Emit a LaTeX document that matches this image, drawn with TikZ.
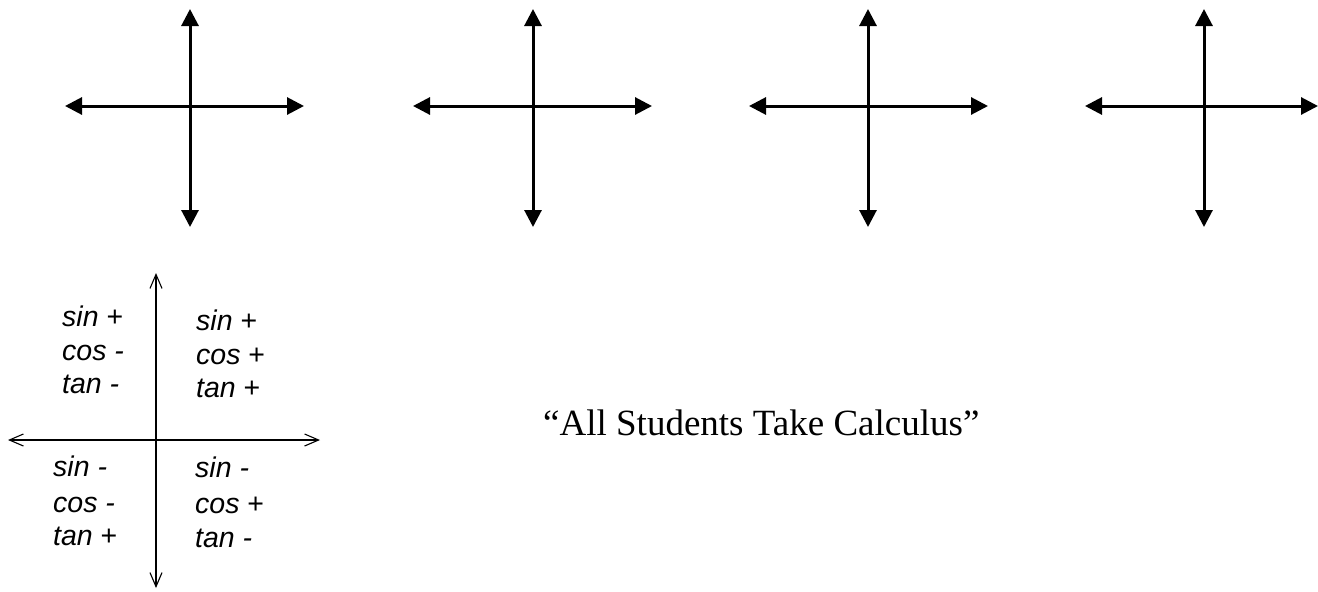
\documentclass[tikz,border=0pt]{standalone}
\usepackage{fontspec}
\setmainfont{Liberation Serif}
\newfontfamily\arialfont{Liberation Sans}
\usetikzlibrary{arrows.meta}
\tikzset{
  bigaxis/.style={line width=3pt, {Triangle[length=17pt,width=17pt]}-{Triangle[length=17pt,width=17pt]}},
  thinaxis/.style={line width=1.1pt, {Straight Barb[length=14pt,width=12pt,line width=1.1pt]}-{Straight Barb[length=14pt,width=12pt,line width=1.1pt]}},
  sign/.style={inner sep=0pt, anchor=base west, font=\arialfont\fontsize{28.5}{32}\selectfont},
  motto/.style={inner sep=0pt, anchor=base west, font=\fontsize{37}{44}\selectfont}
}
\begin{document}
\begin{tikzpicture}[x=1pt,y=-1pt]
\useasboundingbox (0,0) rectangle (1318,592);
% four empty coordinate crosses
\foreach \i/\cx/\l/\r in {1/190/65/304, 2/533/413/652, 3/868/749/988, 4/1204/1085/1318}{
  \coordinate (t\i) at (\cx,9);
  \coordinate (b\i) at (\cx,227);
  \coordinate (l\i) at (\l,106);
  \coordinate (r\i) at (\r,106);
  \draw[bigaxis] (l\i) -- (r\i);
  \draw[bigaxis] (b\i) -- (t\i);
}
% small quadrant diagram
\coordinate (qt) at (156,273);
\coordinate (qb) at (156,588);
\coordinate (ql) at (8,440);
\coordinate (qr) at (320,440);
\draw[thinaxis] (ql) -- (qr);
\draw[thinaxis] (qb) -- (qt);
% quadrant II
\node[sign] (q2a) at (62,326) {\textit{sin} +};
\node[sign] (q2b) at (62,360) {\textit{cos -}};
\node[sign] (q2c) at (62,393) {\textit{tan -}};
% quadrant I
\node[sign] (q1a) at (196,330) {\textit{sin} +};
\node[sign] (q1b) at (196,364) {\textit{cos} +};
\node[sign] (q1c) at (196,397) {\textit{tan} +};
% quadrant III
\node[sign] (q3a) at (53,476) {\textit{sin -}};
\node[sign] (q3b) at (53,512) {\textit{cos -}};
\node[sign] (q3c) at (53,545) {\textit{tan} +};
% quadrant IV
\node[sign] (q4a) at (195,477) {\textit{sin -}};
\node[sign] (q4b) at (195,513) {\textit{cos} +};
\node[sign] (q4c) at (195,547) {\textit{tan -}};
% motto
\node[motto] (motto) at (543,435) {``All Students Take Calculus''};
\end{tikzpicture}
\end{document}
